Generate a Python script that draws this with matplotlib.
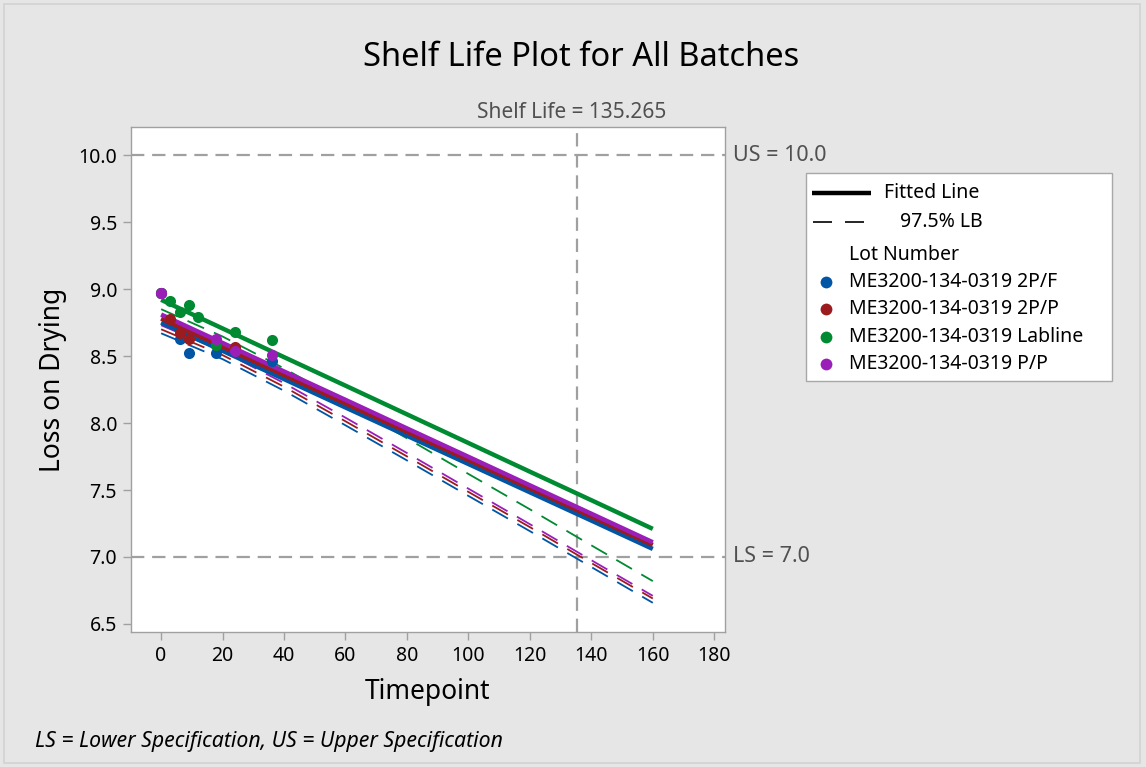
import matplotlib
matplotlib.use("Agg")
import matplotlib.pyplot as plt
from matplotlib.lines import Line2D
from matplotlib.patches import Rectangle

# ---------------- data ----------------
batches = ["ME3200-134-0319 2P/F", "ME3200-134-0319 2P/P",
           "ME3200-134-0319 Labline", "ME3200-134-0319 P/P"]
colors = ["#0055A5", "#9B1B1E", "#008A32", "#9A1FB8"]

# observed points
t_2pf = [0, 6, 9, 18, 36]
y_2pf = [8.97, 8.63, 8.52, 8.52, 8.46]
t_2pp = [0, 3, 6, 9, 18, 24]
y_2pp = [8.97, 8.78, 8.67, 8.63, 8.58, 8.57]
t_lab = [0, 3, 6, 9, 12, 18, 24, 36]
y_lab = [8.97, 8.91, 8.83, 8.88, 8.79, 8.58, 8.68, 8.62]
t_pp = [0, 18, 24, 36]
y_pp = [8.97, 8.63, 8.54, 8.51]

# fitted lines and 97.5% lower bounds read at these timepoints
t_grid = [0, 20, 40, 60, 80, 100, 120, 140, 160]
fit_2pf = [8.75, 8.539, 8.328, 8.116, 7.905, 7.694, 7.483, 7.272, 7.06]
lb_2pf = [8.67, 8.477, 8.241, 7.983, 7.721, 7.456, 7.193, 6.925, 6.658]
fit_2pp = [8.78, 8.569, 8.358, 8.146, 7.935, 7.724, 7.513, 7.302, 7.09]
lb_2pp = [8.70, 8.507, 8.271, 8.013, 7.751, 7.486, 7.223, 6.955, 6.69]
fit_lab = [8.92, 8.706, 8.492, 8.279, 8.065, 7.851, 7.637, 7.424, 7.21]
lb_lab = [8.85, 8.646, 8.408, 8.15, 7.886, 7.62, 7.356, 7.087, 6.82]
fit_pp = [8.81, 8.598, 8.385, 8.173, 7.96, 7.748, 7.535, 7.323, 7.11]
lb_pp = [8.73, 8.536, 8.298, 8.04, 7.776, 7.51, 7.245, 6.976, 6.71]

shelf_life = 135.265
upper_spec = 10.0
lower_spec = 7.0
x_ticks = [0, 20, 40, 60, 80, 100, 120, 140, 160, 180]
y_ticks = [6.5, 7.0, 7.5, 8.0, 8.5, 9.0, 9.5, 10.0]

# ---------------- figure ----------------
W, H = 1146, 767
plt.rcParams['font.family'] = ['Noto Sans', 'DejaVu Sans']
fig = plt.figure(figsize=(W / 100, H / 100), dpi=100)
fig.patch.set_facecolor("#E6E6E6")

def fx(px):
    return px / W

def fy(py):
    return 1 - py / H

# outer frame
fig.add_artist(Rectangle((fx(4), fy(763)), fx(1140) - fx(4), fy(4) - fy(763),
                         transform=fig.transFigure, facecolor="none",
                         edgecolor="#D2D2D2", lw=1.2))

ax = fig.add_axes([fx(131), fy(632), fx(725) - fx(131), fy(127) - fy(632)])
ax.set_facecolor("white")
ax.set_xlim(-9.8, 183.5)
ax.set_ylim(6.44, 10.21)

pts = [(t_2pf, y_2pf), (t_2pp, y_2pp), (t_lab, y_lab), (t_pp, y_pp)]
fits = [fit_2pf, fit_2pp, fit_lab, fit_pp]
lbs = [lb_2pf, lb_2pp, lb_lab, lb_pp]

# reference lines
gray = "#A0A0A0"
for yv in (upper_spec, lower_spec):
    ax.axhline(yv, color=gray, lw=1.6, dashes=(6, 3.5), zorder=1)
ax.axvline(shelf_life, color=gray, lw=1.6, dashes=(6, 3.5), zorder=1)

for c, lb in zip(colors, lbs):
    ax.plot(t_grid, lb, color=c, lw=1.3, dashes=(10, 6), zorder=2)
for c, f in zip(colors, fits):
    ax.plot(t_grid, f, color=c, lw=3.2, zorder=3, solid_capstyle="butt")
for c, (tt, yy) in zip(colors, pts):
    ax.scatter(tt, yy, s=64, color=c, zorder=4, linewidths=0)

ax.set_xticks(x_ticks)
ax.set_yticks(y_ticks)
ax.set_yticklabels([f"{v:.1f}" for v in y_ticks])
ax.tick_params(axis="both", direction="out", length=6, width=1, color=gray,
               labelsize=14, labelcolor="black", pad=4)
for s in ax.spines.values():
    s.set_color(gray)
    s.set_linewidth(1.0)

ax.set_xlabel("Timepoint", fontsize=19, labelpad=9)
ax.set_ylabel("Loss on Drying", fontsize=19, labelpad=8)

# annotations
text_gray = "#505050"
fig.text(fx(572), fy(113), f"Shelf Life = {shelf_life}", ha="center", va="center",
         fontsize=15, color=text_gray)
ax.annotate(f"US = {upper_spec:.1f}", xy=(1, upper_spec), xycoords=("axes fraction", "data"),
            xytext=(6, 0), textcoords="offset points", ha="left", va="center",
            fontsize=15.5, color=text_gray)
ax.annotate(f"LS = {lower_spec:.1f}", xy=(1, lower_spec), xycoords=("axes fraction", "data"),
            xytext=(6, 0), textcoords="offset points", ha="left", va="center",
            fontsize=15.5, color=text_gray)

fig.text(fx(581), fy(58), "Shelf Life Plot for All Batches", ha="center", va="center",
         fontsize=23.5, color="black", fontweight="medium")
fig.text(fx(35), fy(742), "LS = Lower Specification, US = Upper Specification",
         ha="left", va="center", fontsize=15.3, style="italic", color="black")

# legend (drawn manually)
fig.add_artist(Rectangle((fx(806), fy(381)), fx(1112) - fx(806), fy(173) - fy(381),
                         transform=fig.transFigure, facecolor="white",
                         edgecolor="#A8A8A8", lw=1.0))
fig.add_artist(Line2D([fx(812), fx(871)], [fy(193), fy(193)], transform=fig.transFigure,
                      color="black", lw=3.2, solid_capstyle="butt"))
fig.text(fx(884), fy(193), "Fitted Line", ha="left", va="center", fontsize=14)
fig.add_artist(Line2D([fx(813), fx(864)], [fy(222), fy(222)], transform=fig.transFigure,
                      color="black", lw=1.2, dashes=(11.4, 7.8), solid_capstyle="butt"))
fig.text(fx(900), fy(222), "97.5% LB", ha="left", va="center", fontsize=14)
fig.text(fx(849), fy(255), "Lot Number", ha="left", va="center", fontsize=14)
for i, (b, c) in enumerate(zip(batches, colors)):
    yy = 282 + i * 27.3
    fig.add_artist(Line2D([fx(826)], [fy(yy)], transform=fig.transFigure, marker="o",
                          markersize=8.5, color=c, markeredgewidth=0, lw=0))
    fig.text(fx(849), fy(yy), b, ha="left", va="center", fontsize=14)

fig.savefig("out.png", dpi=100, facecolor=fig.get_facecolor())
